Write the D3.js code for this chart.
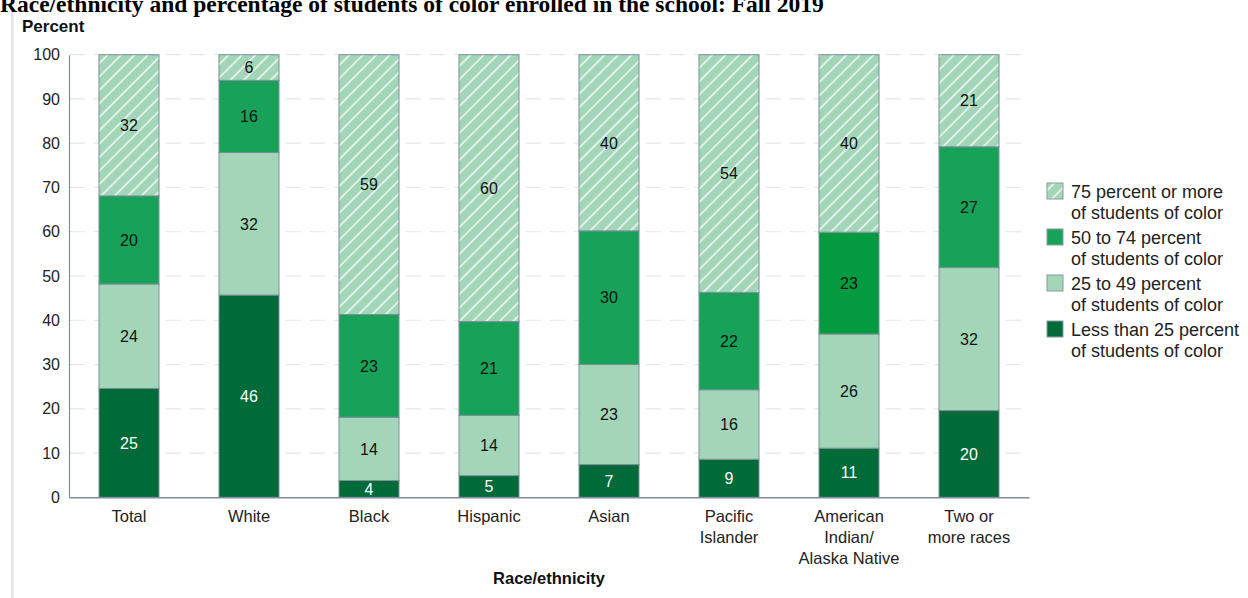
<!DOCTYPE html>
<html>
<head>
<meta charset="utf-8">
<script src="https://cdn.jsdelivr.net/npm/d3@7"></script>
<style>
  html, body { margin: 0; padding: 0; background: #fff; }
  svg { display: block; }
</style>
</head>
<body>
<svg id="chart" width="1248" height="598"></svg>
<script>
const categories = ["Total", "White", "Black", "Hispanic", "Asian", "Pacific Islander", "American Indian/Alaska Native", "Two or more races"];
const categoryLines = [["Total"], ["White"], ["Black"], ["Hispanic"], ["Asian"], ["Pacific", "Islander"], ["American", "Indian/", "Alaska Native"], ["Two or", "more races"]];
const lessThan25 = [24.6, 45.7, 3.8, 4.9, 7.4, 8.6, 11.1, 19.6];
const from25to49 = [23.6, 32.2, 14.3, 13.6, 22.6, 15.7, 25.8, 32.3];
const from50to74 = [19.9, 16.3, 23.2, 21.2, 30.2, 22.0, 23.0, 27.3];
const over75 = [31.9, 5.8, 58.7, 60.3, 39.8, 53.7, 40.1, 20.8];
const seriesKeys = ["lt25", "p25", "p50", "p75"];
const seriesNames = ["Less than 25 percent|of students of color", "25 to 49 percent|of students of color", "50 to 74 percent|of students of color", "75 percent or more|of students of color"];
const yTicks = [0, 10, 20, 30, 40, 50, 60, 70, 80, 90, 100];

const title = "Race/ethnicity and percentage of students of color enrolled in the school: Fall 2019";

const rows = categories.map((c, i) => ({ cat: c, lt25: lessThan25[i], p25: from25to49[i], p50: from50to74[i], p75: over75[i] }));

const svg = d3.select("#chart");
const font = "Arial, 'Liberation Sans', Helvetica, sans-serif";

const fills = { lt25: "#006a38", p25: "#a3d6b8", p50: "#18a158", p75: "url(#hatch)" };
const labelColor = { lt25: "#ffffff", p25: "#111", p50: "#111", p75: "#111" };

const defs = svg.append("defs");
const pat = defs.append("pattern").attr("id", "hatch").attr("patternUnits", "userSpaceOnUse")
  .attr("width", 9.5).attr("height", 9.5).attr("patternTransform", "rotate(45)");
pat.append("rect").attr("width", 9.5).attr("height", 9.5).attr("fill", "#a3d6b8");
pat.append("line").attr("x1", 1).attr("y1", 0).attr("x2", 1).attr("y2", 9.5)
  .attr("stroke", "#ffffff").attr("stroke-width", 1.3);

// left page rule
svg.append("rect").attr("x", 11).attr("y", 9).attr("width", 2.5).attr("height", 598).attr("fill", "#dfe5ec");

// title (partially cut off at top, as in the reference)
svg.append("text").attr("x", 0).attr("y", 12)
  .attr("font-family", "'Liberation Serif', 'Times New Roman', serif")
  .attr("font-weight", "bold").attr("font-size", 23.5).attr("fill", "#000").text(title);

const x = d3.scaleBand().domain(categories).range([69, 1029]).paddingInner(0.5).paddingOuter(0.25);
const y = d3.scaleLinear().domain([0, 100]).range([497.3, 54.7]);

// gridlines
svg.append("g").selectAll("line").data(yTicks.filter(d => d > 0)).join("line")
  .attr("x1", 70).attr("x2", 1029)
  .attr("y1", d => y(d)).attr("y2", d => y(d))
  .attr("stroke", "#e6e6e6").attr("stroke-width", 1.2).attr("stroke-dasharray", "15,9");

// y axis
const yAxis = svg.append("g").attr("transform", "translate(69,0)")
  .call(d3.axisLeft(y).tickValues(yTicks).tickSize(0).tickPadding(9));
yAxis.select(".domain").attr("stroke", "#7f8d96").attr("stroke-width", 1.2);
yAxis.selectAll("text").attr("font-family", font).attr("font-size", 16).attr("fill", "#222");

// stacked bars
const stack = d3.stack().keys(seriesKeys)(rows);
const layers = svg.append("g").selectAll("g").data(stack).join("g");
layers.selectAll("rect").data(s => s.map(d => ({ key: s.key, d }))).join("rect")
  .attr("x", e => x(e.d.data.cat))
  .attr("width", x.bandwidth())
  .attr("y", e => y(e.d[1]))
  .attr("height", e => y(e.d[0]) - y(e.d[1]))
  .attr("fill", e => (e.key === "p50" && e.d.data.cat === "American Indian/Alaska Native") ? "#039a40" : fills[e.key])
  .attr("stroke", "#7a8f99").attr("stroke-width", 1);

layers.selectAll("text").data(s => s.map(d => ({ key: s.key, d }))).join("text")
  .attr("x", e => x(e.d.data.cat) + x.bandwidth() / 2)
  .attr("y", e => (y(e.d[0]) + y(e.d[1])) / 2)
  .attr("dy", "0.36em")
  .attr("text-anchor", "middle")
  .attr("font-family", font).attr("font-size", 16)
  .attr("fill", e => labelColor[e.key])
  .text(e => Math.round(e.d[1] - e.d[0]));

// x axis
const xAxis = svg.append("g").attr("transform", "translate(0," + y(0) + ")")
  .call(d3.axisBottom(x).tickSize(0).tickFormat(""));
xAxis.select(".domain").attr("stroke", "#7f8d96").attr("stroke-width", 1.4);

const catG = svg.append("g");
categories.forEach((c, i) => {
  const t = catG.append("text").attr("text-anchor", "middle")
    .attr("font-family", font).attr("font-size", 16.5).attr("fill", "#222");
  categoryLines[i].forEach((ln, j) => {
    t.append("tspan").attr("x", x(c) + x.bandwidth() / 2).attr("y", 522 + j * 21).text(ln);
  });
});

svg.append("text").attr("x", (69 + 1029) / 2).attr("y", 584).attr("text-anchor", "middle")
  .attr("font-family", font).attr("font-weight", "bold").attr("font-size", 16.5).attr("fill", "#111")
  .text("Race/ethnicity");

svg.append("text").attr("x", 22).attr("y", 32)
  .attr("font-family", font).attr("font-weight", "bold").attr("font-size", 17).attr("fill", "#111")
  .text("Percent");

// legend (top to bottom: 75+ first)
const legendOrder = [3, 2, 1, 0];
const leg = svg.append("g");
legendOrder.forEach((si, k) => {
  const key = seriesKeys[si];
  const gy = 183 + k * 46;
  leg.append("rect").attr("x", 1047).attr("y", gy).attr("width", 16).attr("height", 16)
    .attr("fill", fills[key])
    .attr("stroke", "#8a9a9f").attr("stroke-width", 1);
  const parts = seriesNames[si].split("|");
  const t = leg.append("text").attr("font-family", font).attr("font-size", 18).attr("fill", "#222");
  parts.forEach((p, j) => {
    t.append("tspan").attr("x", 1071).attr("y", gy + 14.5 + j * 21).text(p);
  });
});
</script>
</body>
</html>
